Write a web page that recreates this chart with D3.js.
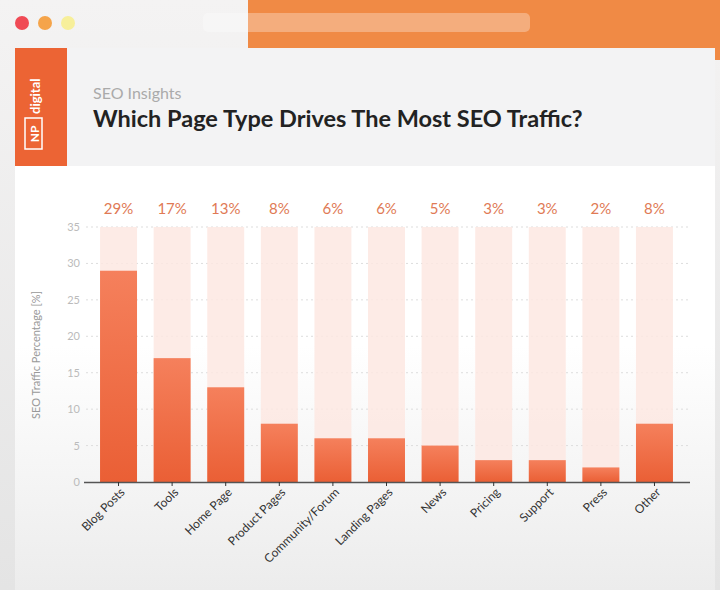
<!DOCTYPE html><html><head><meta charset="utf-8"><script src="https://cdn.jsdelivr.net/npm/d3@7"></script>
<style>body{margin:0;}svg{display:block;font-family:Lato,"Open Sans",sans-serif;}</style></head><body>
<svg id="c" width="720" height="590"></svg>
<script>
const categories=["Blog Posts","Tools","Home Page","Product Pages","Community/Forum","Landing Pages","News","Pricing","Support","Press","Other"];
const values=[29,17,13,8,6,6,5,3,3,2,8];
const yTicks=[0,5,10,15,20,25,30,35];
const svg=d3.select("#c");
const defs=svg.append("defs");
const bg=defs.append("linearGradient").attr("id","bg").attr("x1",0).attr("y1",0).attr("x2",0).attr("y2",1);
bg.append("stop").attr("offset",0).attr("stop-color","#f4f3f3");bg.append("stop").attr("offset",1).attr("stop-color","#e4e4e4");
const g1=defs.append("linearGradient").attr("id","bar").attr("x1",0).attr("y1",0).attr("x2",0).attr("y2",1);
g1.append("stop").attr("offset",0).attr("stop-color","#f5805c");g1.append("stop").attr("offset",1).attr("stop-color","#ea5f35");
const cg=defs.append("linearGradient").attr("id","card").attr("x1",0).attr("y1",0).attr("x2",0).attr("y2",1);
cg.append("stop").attr("offset",0.55).attr("stop-color","#ffffff");cg.append("stop").attr("offset",1).attr("stop-color","#ececec");
svg.append("rect").attr("width",720).attr("height",590).attr("fill","url(#bg)");
svg.append("rect").attr("x",248).attr("width",472).attr("height",60).attr("fill","#f08a45");
svg.append("rect").attr("x",203).attr("y",13).attr("width",327).attr("height",19).attr("rx",5).attr("fill","#ffffff").attr("opacity",0.3);
[["#f04a55",22],["#f5a44a",45],["#f7ef9a",68]].forEach(([c,x])=>svg.append("circle").attr("cx",x).attr("cy",23).attr("r",7).attr("fill",c));
svg.append("rect").attr("x",15).attr("y",48).attr("width",700).attr("height",542).attr("fill","url(#card)");
svg.append("rect").attr("x",15).attr("y",48).attr("width",700).attr("height",118).attr("fill","#f3f3f4");
svg.append("rect").attr("x",15).attr("y",48).attr("width",52).attr("height",118).attr("fill","#ec6434");
svg.append("rect").attr("x",25).attr("y",118).attr("width",17).attr("height",31).attr("fill","none").attr("stroke","#fff").attr("stroke-width",1.5);
svg.append("text").attr("transform","translate(39,134) rotate(-90)").attr("text-anchor","middle").attr("fill","#fff").attr("font-size",12).attr("font-weight",700).text("NP");
svg.append("text").attr("transform","translate(40,114) rotate(-90)").attr("fill","#fff").attr("font-size",13).attr("font-weight",700).text("digital");
svg.append("text").attr("x",93).attr("y",99).attr("fill","#aaa").attr("font-size",16).text("SEO Insights");
svg.append("text").attr("x",93).attr("y",127).attr("fill","#222").attr("font-size",23.5).attr("font-weight",700).text("Which Page Type Drives The Most SEO Traffic?");
const x=d3.scaleBand().domain(categories).range([92,681]).paddingInner(0.31).paddingOuter(0.15);
const y=d3.scaleLinear().domain([0,35]).range([482,227]);
const g=svg.append("g");
g.selectAll(".grid").data(yTicks.slice(1)).join("line").attr("x1",86).attr("x2",690).attr("y1",d=>y(d)).attr("y2",d=>y(d)).attr("stroke","#ddd").attr("stroke-dasharray","2,3");
g.selectAll(".bgbar").data(categories).join("rect").attr("x",d=>x(d)).attr("width",x.bandwidth()).attr("y",y(35)).attr("height",y(0)-y(35)).attr("fill","#fde8e2").attr("opacity",0.85);
g.selectAll(".bar").data(values).join("rect").attr("x",(d,i)=>x(categories[i])).attr("width",x.bandwidth()).attr("y",d=>y(d)).attr("height",d=>y(0)-y(d)).attr("fill","url(#bar)");
g.selectAll(".lbl").data(values).join("text").attr("x",(d,i)=>x(categories[i])+x.bandwidth()/2).attr("y",214).attr("text-anchor","middle").attr("fill","#e07a55").attr("font-size",15).text(d=>d+"%");
const ya=svg.append("g").attr("transform","translate(84,0)").call(d3.axisLeft(y).tickValues(yTicks).tickSize(0).tickPadding(4));
ya.select(".domain").remove();ya.selectAll("text").attr("fill","#bbb").attr("font-size",11).attr("font-family","Lato,sans-serif");
const xa=svg.append("g").attr("transform","translate(0,482)").call(d3.axisBottom(x).tickSize(4).tickSizeOuter(0));
xa.select(".domain").attr("d","M84,0.5H690").attr("stroke","#555").attr("stroke-width",1.5);
xa.selectAll(".tick line").attr("stroke","#333");
xa.selectAll("text").attr("font-size",12).attr("fill","#333").attr("font-family","Lato,sans-serif").attr("text-anchor","end").attr("transform","translate(4,8) rotate(-45)").attr("dy","0.35em").attr("y",0).attr("x",0);
svg.append("text").attr("transform","translate(40,355) rotate(-90)").attr("text-anchor","middle").attr("fill","#999").attr("font-size",11).text("SEO Traffic Percentage [%]");
</script></body></html>
